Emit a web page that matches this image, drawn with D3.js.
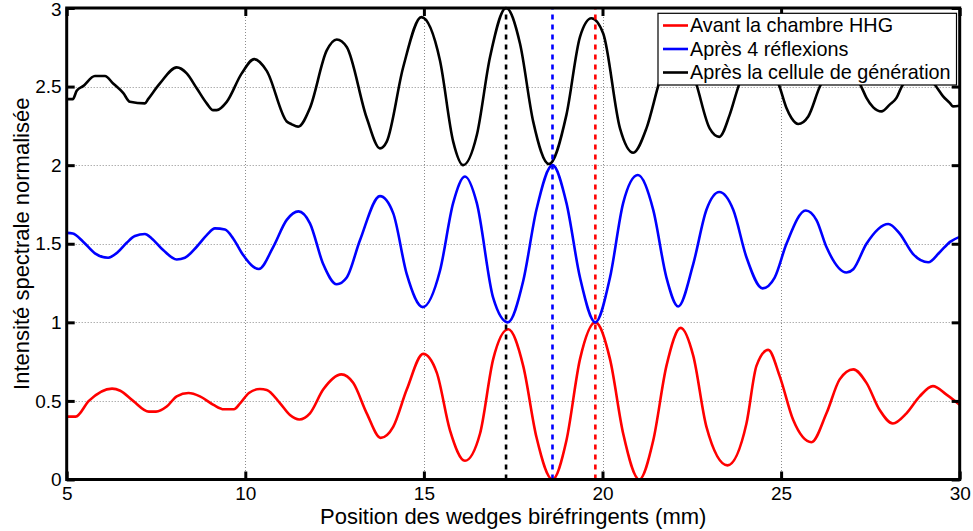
<!DOCTYPE html>
<html>
<head>
<meta charset="utf-8">
<script src="https://cdn.jsdelivr.net/npm/d3@7"></script>
<style>
  html, body { margin: 0; padding: 0; background: #fff; }
  svg { display: block; font-family: "Liberation Sans", Arial, Helvetica, sans-serif; }
</style>
</head>
<body>
<svg id="chart" width="973" height="531"></svg>
<script>
// ---------- data ----------
const xTicks = [5, 10, 15, 20, 25, 30];
const yTicks = [0, 0.5, 1, 1.5, 2, 2.5, 3];
const yTickLabels = ["0", "0.5", "1", "1.5", "2", "2.5", "3"];

const seriesNames = ["Avant la chambre HHG", "Après 4 réflexions", "Après la cellule de génération"];
const seriesColors = ["#ff0000", "#0000ff", "#000000"];

// Avant la chambre HHG (red)
const redX = [5.0, 5.25, 5.62, 6.27, 6.5, 6.86, 7.3, 7.5, 7.8, 8.08, 8.41, 8.73, 9.11, 9.4, 9.68, 9.86, 10.1, 10.41, 10.6, 10.97, 11.25, 11.51, 11.81, 12.18, 12.69, 13.02, 13.4, 13.79, 14.14, 14.52, 14.98, 15.36, 15.73, 16.15, 16.57, 16.94, 17.36, 17.78, 18.15, 18.6, 18.99, 19.37, 19.8, 20.21, 20.58, 21.03, 21.42, 21.79, 22.19, 22.54, 22.91, 23.5, 24.03, 24.31, 24.64, 24.96, 25.34, 25.85, 26.27, 26.64, 27.02, 27.39, 27.76, 28.13, 28.51, 28.88, 29.25, 29.63, 30.0];
const redY = [0.40, 0.40, 0.50, 0.578, 0.565, 0.50, 0.432, 0.432, 0.464, 0.529, 0.55, 0.529, 0.475, 0.447, 0.447, 0.486, 0.55, 0.576, 0.57, 0.486, 0.41, 0.382, 0.421, 0.572, 0.669, 0.615, 0.421, 0.265, 0.335, 0.572, 0.799, 0.68, 0.313, 0.119, 0.291, 0.766, 0.956, 0.723, 0.27, 0.0, 0.248, 0.766, 1.0, 0.766, 0.291, 0.0, 0.248, 0.723, 0.965, 0.788, 0.335, 0.09, 0.356, 0.723, 0.825, 0.658, 0.378, 0.237, 0.421, 0.637, 0.701, 0.615, 0.442, 0.356, 0.421, 0.529, 0.594, 0.54, 0.475];

// Après 4 réflexions (blue)
const blueX = [5.0, 5.17, 5.46, 5.79, 6.16, 6.44, 6.68, 6.91, 7.19, 7.38, 7.7, 8.08, 8.31, 8.64, 8.92, 9.15, 9.43, 9.66, 9.94, 10.22, 10.38, 10.78, 11.16, 11.49, 11.81, 12.18, 12.56, 12.84, 13.21, 13.77, 14.14, 14.52, 14.97, 15.45, 15.82, 16.15, 16.48, 16.94, 17.35, 17.78, 18.15, 18.6, 18.99, 19.37, 19.8, 20.21, 20.58, 20.99, 21.42, 21.79, 22.12, 22.54, 22.91, 23.27, 23.66, 24.03, 24.48, 24.82, 25.15, 25.69, 25.99, 26.27, 26.83, 27.02, 27.39, 28.0, 28.32, 28.69, 29.12, 29.44, 29.73, 30.0];
const blueY = [1.569, 1.565, 1.513, 1.439, 1.411, 1.449, 1.506, 1.549, 1.562, 1.534, 1.46, 1.40, 1.411, 1.481, 1.555, 1.598, 1.59, 1.534, 1.428, 1.354, 1.339, 1.479, 1.652, 1.706, 1.63, 1.371, 1.242, 1.285, 1.522, 1.803, 1.695, 1.306, 1.097, 1.328, 1.76, 1.928, 1.76, 1.155, 1.0, 1.263, 1.716, 2.0, 1.76, 1.285, 1.0, 1.285, 1.76, 1.937, 1.716, 1.285, 1.101, 1.371, 1.716, 1.829, 1.716, 1.414, 1.216, 1.285, 1.50, 1.712, 1.651, 1.479, 1.317, 1.338, 1.50, 1.626, 1.565, 1.436, 1.382, 1.446, 1.512, 1.544];

// Après la cellule de génération (black)
const blackX = [5.0, 5.17, 5.28, 5.46, 5.79, 6.07, 6.3, 6.58, 6.77, 7.19, 7.28, 7.61, 8.08, 8.36, 8.64, 8.92, 9.1, 9.2, 9.48, 9.9, 10.25, 10.6, 11.16, 11.3, 11.48, 11.81, 12.28, 12.56, 12.84, 13.4, 13.77, 13.96, 14.42, 14.93, 15.45, 15.82, 16.1, 16.48, 16.85, 17.3, 17.69, 18.06, 18.5, 18.99, 19.37, 19.69, 20.02, 20.49, 20.86, 21.23, 21.6, 22.12, 22.63, 23.0, 23.27, 23.56, 23.8, 24.38, 24.96, 25.15, 25.29, 25.48, 25.76, 26.08, 26.67, 27.25, 27.39, 27.58, 27.81, 28.04, 28.23, 28.37, 28.86, 29.35, 29.53, 29.72, 29.81, 30.0];
const blackY = [2.42, 2.42, 2.473, 2.503, 2.567, 2.567, 2.52, 2.46, 2.403, 2.393, 2.42, 2.52, 2.622, 2.584, 2.489, 2.393, 2.35, 2.35, 2.403, 2.584, 2.675, 2.60, 2.278, 2.26, 2.245, 2.364, 2.73, 2.80, 2.752, 2.30, 2.107, 2.15, 2.623, 2.942, 2.666, 2.15, 2.0, 2.19, 2.687, 3.0, 2.774, 2.277, 2.007, 2.32, 2.817, 2.935, 2.838, 2.234, 2.079, 2.234, 2.536, 2.86, 2.514, 2.234, 2.18, 2.32, 2.497, 2.75, 2.497, 2.363, 2.30, 2.262, 2.31, 2.497, 2.68, 2.497, 2.428, 2.368, 2.342, 2.385, 2.428, 2.497, 2.60, 2.497, 2.439, 2.396, 2.374, 2.378];

// vertical dashed markers
const markerX = [17.3, 18.6, 19.8];
const markerColors = ["#000000", "#0000ff", "#ff0000"];

// ---------- layout ----------
const svg = d3.select("#chart");
const L = 66.7, R = 959.7, T = 8, B = 479.5;
const x = d3.scaleLinear().domain([5, 30]).range([L, R]);
const y = d3.scaleLinear().domain([0, 3]).range([B, T]);

svg.append("defs").append("clipPath").attr("id", "clip")
  .append("rect").attr("x", L).attr("y", T - 2).attr("width", R - L).attr("height", B - T + 4);

// grid
const grid = svg.append("g").attr("stroke", "#8c8c8c").attr("stroke-width", 1).attr("stroke-dasharray", "1,2");
grid.selectAll("line.gx").data(xTicks.slice(1, -1)).join("line")
  .attr("x1", d => Math.round(x(d)) + 0.5).attr("x2", d => Math.round(x(d)) + 0.5)
  .attr("y1", T).attr("y2", B);
grid.selectAll("line.gy").data(yTicks.slice(1, -1)).join("line")
  .attr("x1", L).attr("x2", R)
  .attr("y1", d => Math.round(y(d)) + 0.5).attr("y2", d => Math.round(y(d)) + 0.5);

// curves
const line = d3.line().x(d => x(d[0])).y(d => y(d[1])).curve(d3.curveMonotoneX);
const series = [
  d3.zip(redX, redY),
  d3.zip(blueX, blueY),
  d3.zip(blackX, blackY)
];
const plot = svg.append("g").attr("clip-path", "url(#clip)");
plot.selectAll("path.s").data(series).join("path")
  .attr("d", line)
  .attr("fill", "none")
  .attr("stroke", (d, i) => seriesColors[i])
  .attr("stroke-width", 2.6)
  .attr("stroke-linejoin", "round");

// dashed markers
plot.selectAll("line.m").data(markerX).join("line")
  .attr("x1", d => x(d)).attr("x2", d => x(d))
  .attr("y1", B).attr("y2", T)
  .attr("stroke", (d, i) => markerColors[i])
  .attr("stroke-width", 2.6)
  .attr("stroke-dasharray", "5,5");

// axes box + inner ticks on all sides
const ax = svg.append("g");
const xAxisB = d3.axisBottom(x).tickValues(xTicks).tickSizeInner(-8).tickSizeOuter(0).tickPadding(7.5).tickFormat(d3.format("d"));
const xAxisT = d3.axisTop(x).tickValues(xTicks).tickSizeInner(-8).tickSizeOuter(0).tickFormat("");
const yAxisL = d3.axisLeft(y).tickValues(yTicks).tickSizeInner(-8).tickSizeOuter(0).tickPadding(5).tickFormat((d, i) => yTickLabels[i]);
const yAxisR = d3.axisRight(y).tickValues(yTicks).tickSizeInner(-8).tickSizeOuter(0).tickFormat("");

function styleAxis(g) {
  g.select(".domain").remove();
  g.selectAll(".tick line").attr("stroke", "#000").attr("stroke-width", 3);
  g.selectAll(".tick text").attr("fill", "#000").attr("font-size", 19).attr("font-family", "Liberation Sans, Arial, sans-serif");
}
ax.append("g").attr("transform", `translate(0,${B})`).call(xAxisB).call(styleAxis);
ax.append("g").attr("transform", `translate(0,${T})`).call(xAxisT).call(styleAxis);
ax.append("g").attr("transform", `translate(${L},0)`).call(yAxisL).call(styleAxis);
ax.append("g").attr("transform", `translate(${R},0)`).call(yAxisR).call(styleAxis);
// keep the top "3" label inside the canvas
ax.selectAll("text").filter(function () { return this.textContent === "3"; }).attr("dy", "0.42em");

ax.append("rect").attr("x", L).attr("y", T).attr("width", R - L).attr("height", B - T)
  .attr("fill", "none").attr("stroke", "#000").attr("stroke-width", 3);

// axis titles
svg.append("text").attr("x", (L + R) / 2).attr("y", 523.5)
  .attr("text-anchor", "middle").attr("font-size", 22).attr("fill", "#000")
  .text("Position des wedges biréfringents (mm)");
svg.append("text").attr("transform", `translate(29,${(T + B) / 2}) rotate(-90)`)
  .attr("text-anchor", "middle").attr("font-size", 22).attr("fill", "#000")
  .text("Intensité spectrale normalisée");

// legend
const lg = svg.append("g");
const lgX = 658, lgY = 13.3, lgW = 298.5, lgH = 71.7;
lg.append("rect").attr("x", lgX).attr("y", lgY).attr("width", lgW).attr("height", lgH)
  .attr("fill", "#fff").attr("stroke", "#000").attr("stroke-width", 1.2);
const rowY = [25.5, 49, 72.5];
const items = lg.selectAll("g.item").data(seriesNames).join("g").attr("transform", (d, i) => `translate(0,${rowY[i]})`);
items.append("line").attr("x1", 663).attr("x2", 688).attr("y1", 0).attr("y2", 0)
  .attr("stroke", (d, i) => seriesColors[i]).attr("stroke-width", 2.6);
items.append("text").attr("x", 690).attr("y", 0).attr("dy", "0.35em")
  .attr("font-size", 19.8).attr("fill", "#000").text(d => d);
</script>
</body>
</html>
